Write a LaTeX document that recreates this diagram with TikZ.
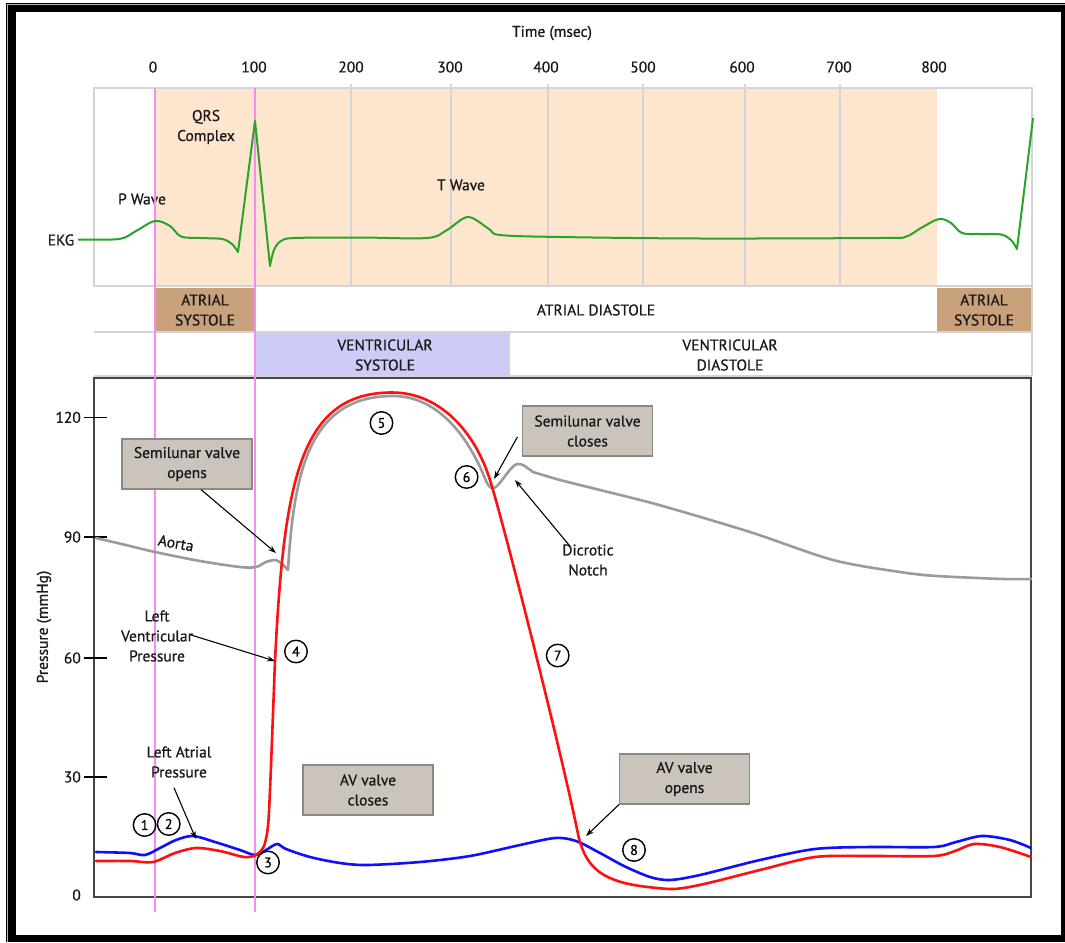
\documentclass[tikz,border=0pt]{standalone}
\usepackage{fontspec}
\setmainfont{PT Sans}[FakeBold=0.8]
\usetikzlibrary{arrows.meta}
\definecolor{orangebg}{RGB}{253,229,206}
\definecolor{brownbox}{RGB}{201,161,123}
\definecolor{lavbox}{RGB}{204,204,247}
\definecolor{gridgray}{RGB}{212,212,212}
\definecolor{annotfill}{RGB}{203,196,189}
\definecolor{annotborder}{RGB}{142,135,127}
\definecolor{pinkline}{RGB}{245,140,245}
\definecolor{ekggreen}{RGB}{40,165,40}
\definecolor{aortagray}{RGB}{155,155,155}
\definecolor{lvred}{RGB}{255,15,15}
\definecolor{lablue}{RGB}{15,15,255}
\definecolor{txt}{RGB}{25,25,25}
\definecolor{framegray}{RGB}{70,70,70}
\begin{document}
\begin{tikzpicture}[x=1pt,y=-1pt,
  font=\fontsize{15.5}{20}\selectfont,
  annot/.style={draw=annotborder, fill=annotfill, line width=1.2pt, minimum width=130pt, minimum height=50pt, align=center, inner sep=2pt, text=txt},
  lbl/.style={align=center, inner sep=0pt, text=txt},
  num/.style={circle, draw=black, line width=1.4pt, minimum size=22.5pt, inner sep=0pt, text=black, font=\fontsize{14}{14}\selectfont},
  arr/.style={-{Stealth[length=8pt,width=5.5pt]}, line width=1.1pt, black},
  curve/.style={line width=2.6pt, line join=round, line cap=round},
  tick/.style={line width=1.3pt, black},
]
\useasboundingbox (0,0) rectangle (1065,942);
\fill[white] (0,0) rectangle (1065,942);
% outer frame
\fill[black] (6,3) rectangle (1065,942);
\draw[gray!55, line width=0.9pt] (7.6,942) -- (7.6,4.6) -- (1065,4.6);
\fill[white] (16,12) rectangle (1061,935);

% EKG panel
\fill[orangebg] (155,88) rectangle (937,286);
\foreach \gx in {351,451,548,643,745,840} {\draw[gridgray, line width=1.6pt] (\gx,84) -- (\gx,286);}
\draw[gridgray, line width=2pt] (94,88) rectangle (1032,286);
% rows
\fill[brownbox] (155,288) rectangle (255,331);
\fill[brownbox] (937,288) rectangle (1032,331);
\fill[lavbox] (256,333) rectangle (510,375);
\draw[gridgray, line width=1.6pt] (94,332) -- (1032,332);
\draw[gridgray, line width=1.6pt] (94,376) -- (1032,376);
\draw[gridgray, line width=1.6pt] (1032,286) -- (1032,376);

% time axis
\node[lbl] (ttl) at (552,33) {Time (msec)};
\foreach \tx/\tl in {153/0,254/100,351/200,450/300,546/400,643/500,742/600,839/700,934/800} {\node[lbl] (t\tl) at (\tx,67) {\tl};}

% EKG labels
\node[lbl] (ekglbl) at (61,240) {EKG};
\node[lbl] (pwave) at (142,199) {P Wave};
\node[lbl] (qrs) at (206,127) {QRS\\Complex};
\node[lbl] (twave) at (461,185) {T Wave};
\node[lbl] (as1) at (205,310) {ATRIAL\\SYSTOLE};
\node[lbl] (ad) at (596,310) {ATRIAL DIASTOLE};
\node[lbl] (as2) at (984,310) {ATRIAL\\SYSTOLE};
\node[lbl] (vs) at (385,355) {VENTRICULAR\\SYSTOLE};
\node[lbl] (vd) at (730,355) {VENTRICULAR\\DIASTOLE};

% pressure frame
\draw[framegray, line width=2pt] (94,378) rectangle (1031,897);
% ticks
\foreach \py/\pl in {417.4/120,537/90,657.9/60,776.9/30} {
  \draw[tick] (84,\py) -- (107,\py);
  \node[lbl, anchor=east] (p\pl) at (81,\py) {\pl};
}
\node[lbl, anchor=east] (p0) at (81,895) {0};
\node[lbl, rotate=90] (ylab) at (44,627) {Pressure (mmHg)};

% pink lines
\draw[pinkline, line width=2pt] (155,88) -- (155,912);
\draw[pinkline, line width=2pt] (255,88) -- (255,912);

% EKG trace
\draw[ekggreen, line width=2pt, line join=round]
  plot[smooth, tension=0.55] coordinates {(78,239.5) (119,239) (136,231) (155,221) (170,226) (181,236.5) (200,238) (222,239) (232,244) (238,252)}
  -- (255,121) -- (270,266)
  -- plot[smooth, tension=0.55] coordinates {(270,266) (274,250) (281,241) (295,238) (360,237.5) (427,238) (447,230) (468,217) (489,229) (500,235) (560,237) (700,238.5) (880,238) (905,237) (921,228) (939,219) (951,223) (962,233) (980,234) (1001,234.5) (1011,240) (1017,249)}
  -- (1033,118);

% aorta
\draw[aortagray, curve]
  plot[smooth, tension=0.5] coordinates {(96,538) (130,546) (155,552) (200,561) (240,567) (256,567) (266,562) (275,560) (281,563) (288,570)}
  .. controls (294,470) and (310,396) .. (393,396)
  .. controls (437,396) and (468,435) .. (486,481)
  .. controls (489,487) and (491,489) .. (494,488)
  .. controls (500,486) and (510,466) .. (517,464)
  .. controls (522,463) and (526,467) .. (533,472)
  -- plot[smooth, tension=0.5] coordinates {(533,472) (560,480) (600,490) (659,505) (750,532) (833,560) (900,572) (937,576) (1003,579) (1031,579)};
% left atrial pressure
\draw[lablue, curve] plot[smooth, tension=0.5] coordinates {
  (96,852) (130,853) (145,855) (160,848) (176,840) (193,836) (215,842) (240,850) (255,855) (266,850) (277,844) (286,849)
  (310,857) (340,863) (367,865) (420,862) (470,856) (520,845) (555,838) (576,841) (600,853) (624,866) (650,877) (670,880)
  (700,875) (760,860) (815,849) (870,847) (934,847) (956,842) (982,836) (1010,840) (1031,848)};
% left ventricular pressure
\draw[lvred, curve]
  plot[smooth, tension=0.5] coordinates {(96,861) (130,861) (153,862) (175,853) (196,848) (220,851) (244,857) (256,855) (264,846) (268,826) (270,790) (272,740) (275,661)}
  .. controls (284,480) and (300,392.5) .. (392,392.5)
  .. controls (440,392.5) and (475,432) .. (490,480)
  .. controls (505,528) and (562,755) .. (578,834)
  .. controls (585,866) and (600,880) .. (640,886)
  -- plot[smooth, tension=0.5] coordinates {(640,886) (673,889) (704,884) (760,870) (815,857) (870,856) (934,856) (955,851) (974,844) (1000,847) (1031,857)};

% annotation boxes
\node[annot] (slo) at (187,464) {Semilunar valve\\opens};
\node[annot] (slc) at (587.5,431) {Semilunar valve\\closes};
\node[annot] (avc) at (368,790) {AV valve\\closes};
\node[annot] (avo) at (684.5,779) {AV valve\\opens};

% labels
\node[lbl, rotate=-10] (aorta) at (176,543) {Aorta};
\node[lbl] (lvp) at (157,636) {Left\\Ventricular\\Pressure};
\node[lbl] (lap) at (179,762) {Left Atrial\\Pressure};
\node[lbl] (dn) at (588,560) {Dicrotic\\Notch};

% arrow targets
\coordinate (slotip) at (276,553);
\coordinate (lvptip) at (275,661);
\coordinate (laptip) at (196,839);
\coordinate (slctip) at (494,479);
\coordinate (dntip) at (515,480);
\coordinate (avotip) at (586,836);
\draw[arr] ([xshift=14pt]slo.south) -- (slotip);
\draw[arr] ([xshift=-2pt,yshift=1pt]lvp.east) -- (lvptip);
\draw[arr] ([xshift=-5pt,yshift=-10pt]lap.south) -- (laptip);
\draw[arr] ([xshift=-4.5pt,yshift=-6pt]slc.west) -- (slctip);
\draw[arr] ([xshift=-18pt,yshift=-2pt]dn.north) -- (dntip);
\draw[arr] (avo.south west) -- (avotip);

% circled numbers
\node[num] (n1) at (144.6,825) {1};
\node[num] (n2) at (168.7,824) {2};
\node[num] (n3) at (268,862.5) {3};
\node[num] (n4) at (296,651.5) {4};
\node[num] (n5) at (381.5,423) {5};
\node[num] (n6) at (466.6,477) {6};
\node[num] (n7) at (557.7,655.5) {7};
\node[num] (n8) at (634,850) {8};
\end{tikzpicture}
\end{document}
